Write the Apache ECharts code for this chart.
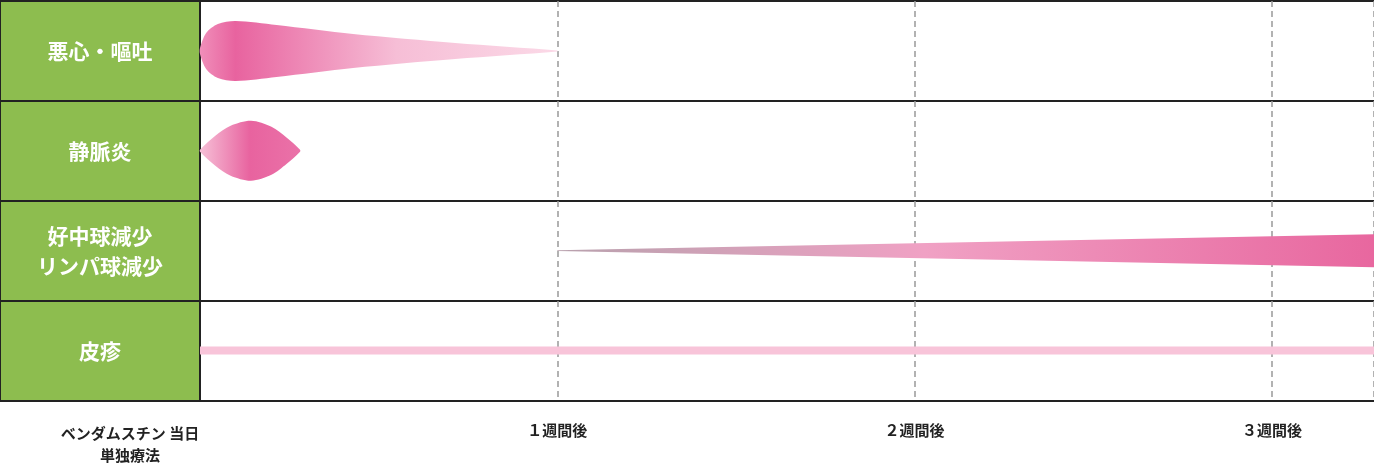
<!DOCTYPE html>
<html><head><meta charset="utf-8">
<script src="https://cdn.jsdelivr.net/npm/echarts@6/dist/echarts.min.js"></script>
<style>html,body{margin:0;background:#fff}#c{width:1374px;height:463px}</style>
</head><body><div id="c"></div>
<script>
const rows = ['悪心・嘔吐', '静脈炎', '好中球減少\nリンパ球減少', '皮疹'];
const tickDays = [0, 7, 14, 21];
const tickLabels = ['ベンダムスチン 当日\n単独療法', '１週間後', '２週間後', '３週間後'];
// profiles: days and half-heights (in row units)
const nauseaDays = [0, 0.12, 0.35, 0.7, 1.5, 3, 5, 7];
const nauseaHalf = [0.03, 0.18, 0.27, 0.3, 0.26, 0.17, 0.08, 0.005];
const phlebDays = [0, 0.3, 0.6, 1.0, 1.4, 1.7, 1.96];
const phlebHalf = [0.01, 0.15, 0.25, 0.3, 0.24, 0.13, 0.01];
const neutroDays = [7, 23];
const neutroHalf = [0.004, 0.165];
const rashDays = [0, 23];
const rashHalf = [0.04, 0.04];

const chart = echarts.init(document.getElementById('c'));
const G = echarts.graphic.LinearGradient;
function shape(row, days, half, smooth, fill) {
  return {
    type: 'custom', silent: true, data: [[row]],
    renderItem: (params, api) => {
      const c = row + 0.5;
      const top = days.map((d, i) => api.coord([d, c - half[i]]));
      const bot = days.map((d, i) => api.coord([d, c + half[i]])).reverse();
      return { type: 'polygon', shape: { points: top.concat(bot), smooth: smooth }, style: { fill: fill } };
    }
  };
}
const boxes = [];
rows.forEach((r, i) => {
  boxes.push({ type: 'rect', shape: { x: 0, y: 1 + i * 100, width: 200, height: 100 },
    style: { fill: '#8dbd4f', stroke: '#222', lineWidth: 2 } });
  boxes.push({ type: 'text', x: 100, y: 51 + i * 100,
    style: { text: r, fill: '#fff', font: 'bold 21px "Noto Sans CJK JP"', align: 'center', verticalAlign: 'middle', lineHeight: 30 } });
});
chart.setOption({
  animation: false,
  grid: { left: 200, right: 0, top: 1, bottom: 62 },
  xAxis: { type: 'value', min: 0, max: 23, interval: 7,
    axisLine: { show: false }, axisTick: { show: false },
    splitLine: { show: true, lineStyle: { color: '#999', type: [6, 4], width: 1.5 } },
    axisLabel: { show: true, showMaxLabel: false, margin: 22, color: '#222',
      fontFamily: 'Noto Sans CJK JP', fontWeight: 'bold', fontSize: 15,
      formatter: v => { const i = tickDays.indexOf(v); if (i < 0) return '';
        return i === 0 ? tickLabels[0].split('\n').map(s => '{a|' + s + '}').join('\n') : tickLabels[i]; },
      rich: { a: { padding: [0, 140, 0, 0], fontFamily: 'Noto Sans CJK JP', fontWeight: 'bold', fontSize: 15, color: '#222', lineHeight: 22 } } } },
  yAxis: { type: 'value', min: 0, max: 4, interval: 1, inverse: true,
    axisLabel: { show: false }, axisTick: { show: false },
    axisLine: { show: true, lineStyle: { color: '#222', width: 2 } },
    splitLine: { show: true, lineStyle: { color: '#222', width: 2 } } },
  graphic: boxes,
  series: [
    shape(0, nauseaDays, nauseaHalf, 0.3, new G(0, 0, 1, 0, [
      { offset: 0, color: '#f08fba' }, { offset: 0.1, color: '#e8639f' }, { offset: 0.55, color: '#f6bed6' }, { offset: 1, color: '#fbd9e7' }])),
    shape(1, phlebDays, phlebHalf, 0.3, new G(0, 0, 1, 0, [
      { offset: 0, color: '#f6c0d7' }, { offset: 0.5, color: '#e8639f' }, { offset: 1, color: '#ea72a8' }])),
    shape(2, neutroDays, neutroHalf, 0, new G(0, 0, 1, 0, [
      { offset: 0, color: '#b8a1ad' }, { offset: 0.45, color: '#f0a1c4' }, { offset: 1, color: '#e8679f' }])),
    shape(3, rashDays, rashHalf, 0, '#f8c4d9')
  ]
});
</script></body></html>
